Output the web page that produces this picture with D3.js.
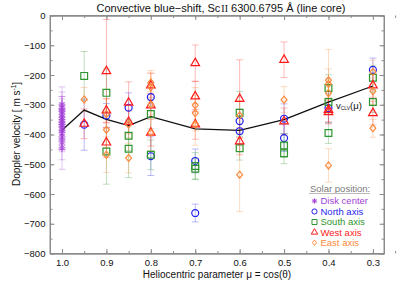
<!DOCTYPE html>
<html>
<head>
<meta charset="utf-8">
<script src="https://cdn.jsdelivr.net/npm/d3@7"></script>
<style>
  body { margin: 0; background: #fff; }
  text { font-family: "Liberation Sans", Arial, sans-serif; }
</style>
</head>
<body>
<div id="chart"><svg></svg></div>
<script>
// data: [mu, velocity m/s, error m/s]
var diskCenter = [[1.0,-300,60],[1.0,-312,55],[1.0,-322,50],[1.0,-332,60],[1.0,-342,45],[1.0,-350,70],
    [1.0,-358,55],[1.0,-366,50],[1.0,-375,60],[1.0,-385,65],[1.0,-395,55],[1.0,-408,50],[1.0,-425,60],[1.0,-445,72]];
var northAxis = [[0.95,-367,86],[0.9,-336,40],[0.85,-310,50],[0.8,-274,45],[0.8,-473,65],[0.7,-489,40],
    [0.7,-664,30],[0.6,-355,40],[0.6,-389,45],[0.5,-347,50],[0.5,-412,45],[0.4,-311,50],[0.3,-183,40]];
var southAxis = [[0.95,-203,82],[0.9,-260,80],[0.9,-457,110],[0.85,-404,50],[0.85,-448,97],[0.8,-331,50],
    [0.8,-468,50],[0.7,-506,45],[0.7,-515,35],[0.6,-327,72],[0.6,-446,40],[0.5,-437,40],[0.5,-463,35],
    [0.4,-244,45],[0.4,-291,40],[0.4,-395,35],[0.3,-209,40],[0.3,-291,35]];
var westAxis = [[0.95,-364,50],[0.9,-187,174],[0.9,-319,40],[0.9,-427,50],[0.85,-293,70],[0.85,-358,40],
    [0.8,-235,40],[0.8,-302,40],[0.8,-394,45],[0.7,-160,61],[0.7,-272,50],[0.7,-366,50],[0.6,-280,131],
    [0.6,-423,45],[0.5,-149,60],[0.5,-356,45],[0.4,-317,40],[0.4,-325,40],[0.3,-235,40],[0.3,-328,40]];
var eastAxis = [[0.95,-282,40],[0.9,-331,50],[0.9,-384,60],[0.9,-468,60],[0.85,-366,45],[0.85,-479,50],
    [0.8,-225,40],[0.8,-241,50],[0.8,-300,45],[0.8,-394,60],[0.7,-302,60],[0.7,-328,60],[0.7,-366,70],
    [0.6,-336,50],[0.6,-535,124],[0.5,-283,44],[0.4,-218,104],[0.4,-230,50],[0.4,-261,50],[0.4,-504,56],
    [0.3,-190,40],[0.3,-255,45],[0.3,-379,30]];

var clvMu  = [1.0, 0.95, 0.9, 0.85, 0.8, 0.7, 0.6, 0.5, 0.4, 0.3];
var clvVel = [-386, -318, -349, -370, -340, -381, -386, -350, -291, -237];

var muTicks  = [1.0, 0.9, 0.8, 0.7, 0.6, 0.5, 0.4, 0.3];
var velTicks = [0, -100, -200, -300, -400, -500, -600, -700, -800];
var legendNames = ['Disk center', 'North axis', 'South axis', 'West axis', 'East axis'];

/**
 * Constructor
 */
function ClvView(svgid, width, height){
    this.svgId = svgid;
    this.svgWidth  = width;
    this.svgHeight = height;
    this.left = 50; this.right = 384; this.top = 15.5; this.bottom = 253.5;
}

/**
 * Initialization
 */
ClvView.prototype.init = function(){
    this.svg = d3.select(this.svgId).select('svg')
        .attr('width', this.svgWidth)
        .attr('height', this.svgHeight);

    this.x = d3.scaleLinear().domain([1.027, 0.275]).range([this.left, this.right]);
    this.y = d3.scaleLinear().domain([-800, 0]).range([this.bottom, this.top]);
};

// custom marker shapes, size is treated as radius squared
var symbolDiamond = { draw: function(c, size){ var r = Math.sqrt(size);
    c.moveTo(0, -r * 1.1); c.lineTo(r * 0.9, 0); c.lineTo(0, r * 1.1); c.lineTo(-r * 0.9, 0); c.closePath(); } };
var symbolStar = { draw: function(c, size){ var r = Math.sqrt(size), d = r * 0.72;
    c.moveTo(-r, 0); c.lineTo(r, 0); c.moveTo(0, -r); c.lineTo(0, r);
    c.moveTo(-d, -d); c.lineTo(d, d); c.moveTo(-d, d); c.lineTo(d, -d); } };

var series = [
    { data: diskCenter, color: '#a23fd6', type: symbolStar,         size: 12.5 },
    { data: northAxis,  color: '#1f1ff0', type: d3.symbolCircle,    size: 38 },
    { data: southAxis,  color: '#2e962e', type: d3.symbolSquare,    size: 46 },
    { data: westAxis,   color: '#ff1a1a', type: d3.symbolTriangle,  size: 32 },
    { data: eastAxis,   color: '#fb8a3c', type: symbolDiamond,      size: 10.5 }
];

/**
 * Draw the axes box
 */
ClvView.prototype.drawAxes = function(){
    var self = this, g = this.svg.append('g');
    var minorMu = d3.range(0, 16).map(function (i) { return 1.0 - i * 0.05; });
    var minorVel = d3.range(0, 17).map(function (i) { return -i * 50; });

    function axis(gen, tr, ticks, len, labels) {
        var a = g.append('g').attr('transform', tr)
            .call(gen.tickValues(ticks).tickSizeInner(len).tickSizeOuter(0).tickPadding(6)
                .tickFormat(labels ? null : ''));
        a.selectAll('path, line').attr('stroke', '#8c8c8c');
        a.selectAll('text').attr('font-size', 9.5).attr('fill', '#111');
        return a;
    }
    var b = self.bottom, t = self.top, l = self.left, r = self.right;
    axis(d3.axisBottom(self.x), 'translate(0,' + b + ')', minorMu, -2.5, false);
    axis(d3.axisBottom(self.x), 'translate(0,' + b + ')', muTicks, -4.5, true)
        .call(function (a) { a.selectAll('text').text(function (d) { return d3.format('.1f')(d); }); });
    axis(d3.axisTop(self.x), 'translate(0,' + t + ')', minorMu, -2.5, false);
    axis(d3.axisTop(self.x), 'translate(0,' + t + ')', muTicks, -4.5, false);
    axis(d3.axisLeft(self.y), 'translate(' + l + ',0)', minorVel, -2.5, false);
    axis(d3.axisLeft(self.y), 'translate(' + l + ',0)', velTicks, -4.5, true)
        .selectAll('text').attr('dx', '0.15em');
    axis(d3.axisRight(self.y), 'translate(' + r + ',0)', minorVel, -2.5, false);
    axis(d3.axisRight(self.y), 'translate(' + r + ',0)', velTicks, -4.5, false);

    g.append('rect').attr('x', l).attr('y', t).attr('width', r - l).attr('height', b - t)
        .attr('fill', 'none').attr('stroke', '#8c8c8c').attr('stroke-width', 1);

    // labels
    var title = this.svg.append('text').attr('x', 221).attr('y', 12)
        .attr('text-anchor', 'middle').attr('font-size', 11).attr('fill', '#111');
    title.append('tspan').text('Convective blue\u2212shift, Sc');
    title.append('tspan').text('II').attr('font-family', 'Liberation Serif, serif').attr('font-size', 10).attr('dx', 1);
    title.append('tspan').text(' 6300.6795 \u00c5 (line core)');

    this.svg.append('text').attr('x', 217).attr('y', 278).attr('text-anchor', 'middle')
        .attr('font-size', 10).attr('fill', '#111').text('Heliocentric parameter \u03bc = cos(\u03b8)');

    var yl = this.svg.append('text').attr('transform', 'translate(20,134) rotate(-90)')
        .attr('text-anchor', 'middle').attr('font-size', 10).attr('fill', '#111');
    yl.append('tspan').text('Doppler velocity [ m s');
    yl.append('tspan').text('-1').attr('font-size', 6.5).attr('dy', -4);
    yl.append('tspan').text(']').attr('dy', 4);
};

/**
 * This is a function to draw the measurements
 */
ClvView.prototype.update = function(){
    var self = this;
    var bars = this.svg.append('g');
    series.forEach(function (s) {
        var eg = bars.append('g').attr('stroke', s.color).attr('stroke-opacity', 0.3).attr('stroke-width', 1);
        eg.selectAll('line.v').data(s.data).enter().append('line')
            .attr('x1', function (d) { return self.x(d[0]); })
            .attr('x2', function (d) { return self.x(d[0]); })
            .attr('y1', function (d) { return self.y(d[1] + d[2]); })
            .attr('y2', function (d) { return self.y(d[1] - d[2]); });
        [1, -1].forEach(function (sgn) {
            eg.selectAll('line.c' + sgn).data(s.data).enter().append('line')
                .attr('x1', function (d) { return self.x(d[0]) - 3.5; })
                .attr('x2', function (d) { return self.x(d[0]) + 3.5; })
                .attr('y1', function (d) { return self.y(d[1] + sgn * d[2]); })
                .attr('y2', function (d) { return self.y(d[1] + sgn * d[2]); });
        });
    });

    var line = d3.line()
        .x(function (d, i) { return self.x(clvMu[i]); })
        .y(function (d) { return self.y(d); });
    this.svg.append('path').attr('d', line(clvVel))
        .attr('fill', 'none').attr('stroke', '#111').attr('stroke-width', 1.3);

    series.forEach(function (s) {
        self.svg.append('g').selectAll('path').data(s.data).enter().append('path')
            .attr('d', d3.symbol().type(s.type).size(s.size))
            .attr('transform', function (d) { return 'translate(' + self.x(d[0]) + ',' + self.y(d[1]) + ')'; })
            .attr('fill', 'none').attr('stroke', s.color).attr('stroke-width', 1.2)
            .attr('stroke-opacity', s.type === symbolStar ? 0.7 : 1);
    });

    var lab = this.svg.append('text').attr('x', 336).attr('y', 108.5).attr('font-size', 9.5).attr('fill', '#111');
    lab.append('tspan').text('v');
    lab.append('tspan').text('CLV').attr('font-size', 5).attr('dy', 1);
    lab.append('tspan').text('(\u03bc)').attr('dy', -1);
};

/**
 * Legend box
 */
ClvView.prototype.legend = function(){
    var g = this.svg.append('g');
    g.append('text').attr('x', 310).attr('y', 191.5).attr('font-size', 9.5).attr('fill', '#7a7a7a').text('Solar position:');
    g.append('line').attr('x1', 309).attr('x2', 370).attr('y1', 193.5).attr('y2', 193.5)
        .attr('stroke', '#bbb').attr('stroke-width', 1);
    var rows = [201, 211.5, 222, 232.3, 242.7];
    series.forEach(function (s, i) {
        g.append('path').attr('d', d3.symbol().type(s.type).size(s.size * 0.55))
            .attr('transform', 'translate(314.5,' + rows[i] + ')')
            .attr('fill', 'none').attr('stroke', s.color).attr('stroke-width', 1);
        g.append('text').attr('x', 320.5).attr('y', rows[i] + 3.4).attr('font-size', 9.5)
            .attr('fill', s.color).text(legendNames[i]);
    });
};

var view = new ClvView('#chart', 399, 285);
view.init();
view.drawAxes();
view.update();
view.legend();
</script>
</body>
</html>
